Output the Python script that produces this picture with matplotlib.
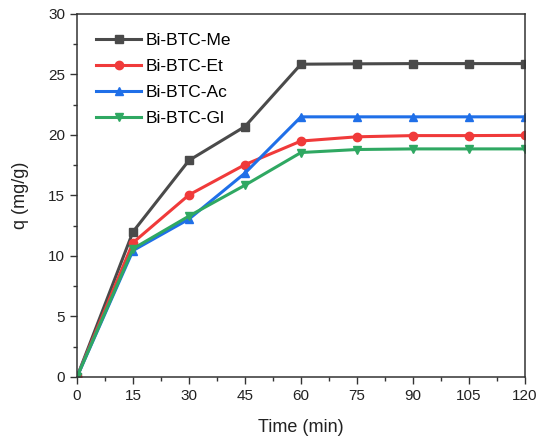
import matplotlib
matplotlib.use("Agg")
import matplotlib.pyplot as plt
from matplotlib.ticker import MultipleLocator

plt.rcParams['font.family'] = ['Liberation Sans', 'DejaVu Sans']

time = [0, 15, 30, 45, 60, 75, 90, 105, 120]
me = [0, 12.0, 17.9, 20.7, 25.85, 25.88, 25.9, 25.9, 25.9]
et = [0, 11.1, 15.05, 17.55, 19.5, 19.85, 19.95, 19.95, 19.97]
ac = [0, 10.45, 13.05, 16.85, 21.5, 21.5, 21.5, 21.5, 21.5]
gl = [0, 10.6, 13.3, 15.85, 18.55, 18.8, 18.85, 18.85, 18.85]
labels = ['Bi-BTC-Me', 'Bi-BTC-Et', 'Bi-BTC-Ac', 'Bi-BTC-Gl']
colors = ['#4a4a4a', '#f03a3a', '#1f6fe8', '#2fa862']
markers = ['s', 'o', '^', 'v']

fig = plt.figure(figsize=(5.44, 4.37), dpi=100)
ax = fig.add_axes([0.1415, 0.1373, 0.8235, 0.8307])
for y, lab, c, m in zip([me, et, ac, gl], labels, colors, markers):
    ax.plot(time, y, color=c, marker=m, markersize=6, linewidth=2.2, label=lab)

ax.set_xlim(0, 120)
ax.set_ylim(0, 30)
ax.xaxis.set_major_locator(MultipleLocator(15))
ax.xaxis.set_minor_locator(MultipleLocator(7.5))
ax.yaxis.set_major_locator(MultipleLocator(5))
ax.yaxis.set_minor_locator(MultipleLocator(2.5))
ax.tick_params(which='both', direction='out', top=False, right=False, width=1, color='#333333')
ax.tick_params(which='major', length=5, labelsize=11, labelcolor='#222222')
ax.tick_params(which='minor', length=3)
for s in ax.spines.values():
    s.set_linewidth(1.1)
    s.set_color('#333333')
ax.set_xlabel('Time (min)', fontsize=13, color='#222222', labelpad=12)
ax.set_ylabel('q (mg/g)', fontsize=13, color='#222222', labelpad=14)
ax.legend(loc='upper left', frameon=False, fontsize=12.5, handlelength=2.6,
          handletextpad=0.25, labelspacing=0.62, borderaxespad=0.7)
fig.savefig('out.png', dpi=100)
